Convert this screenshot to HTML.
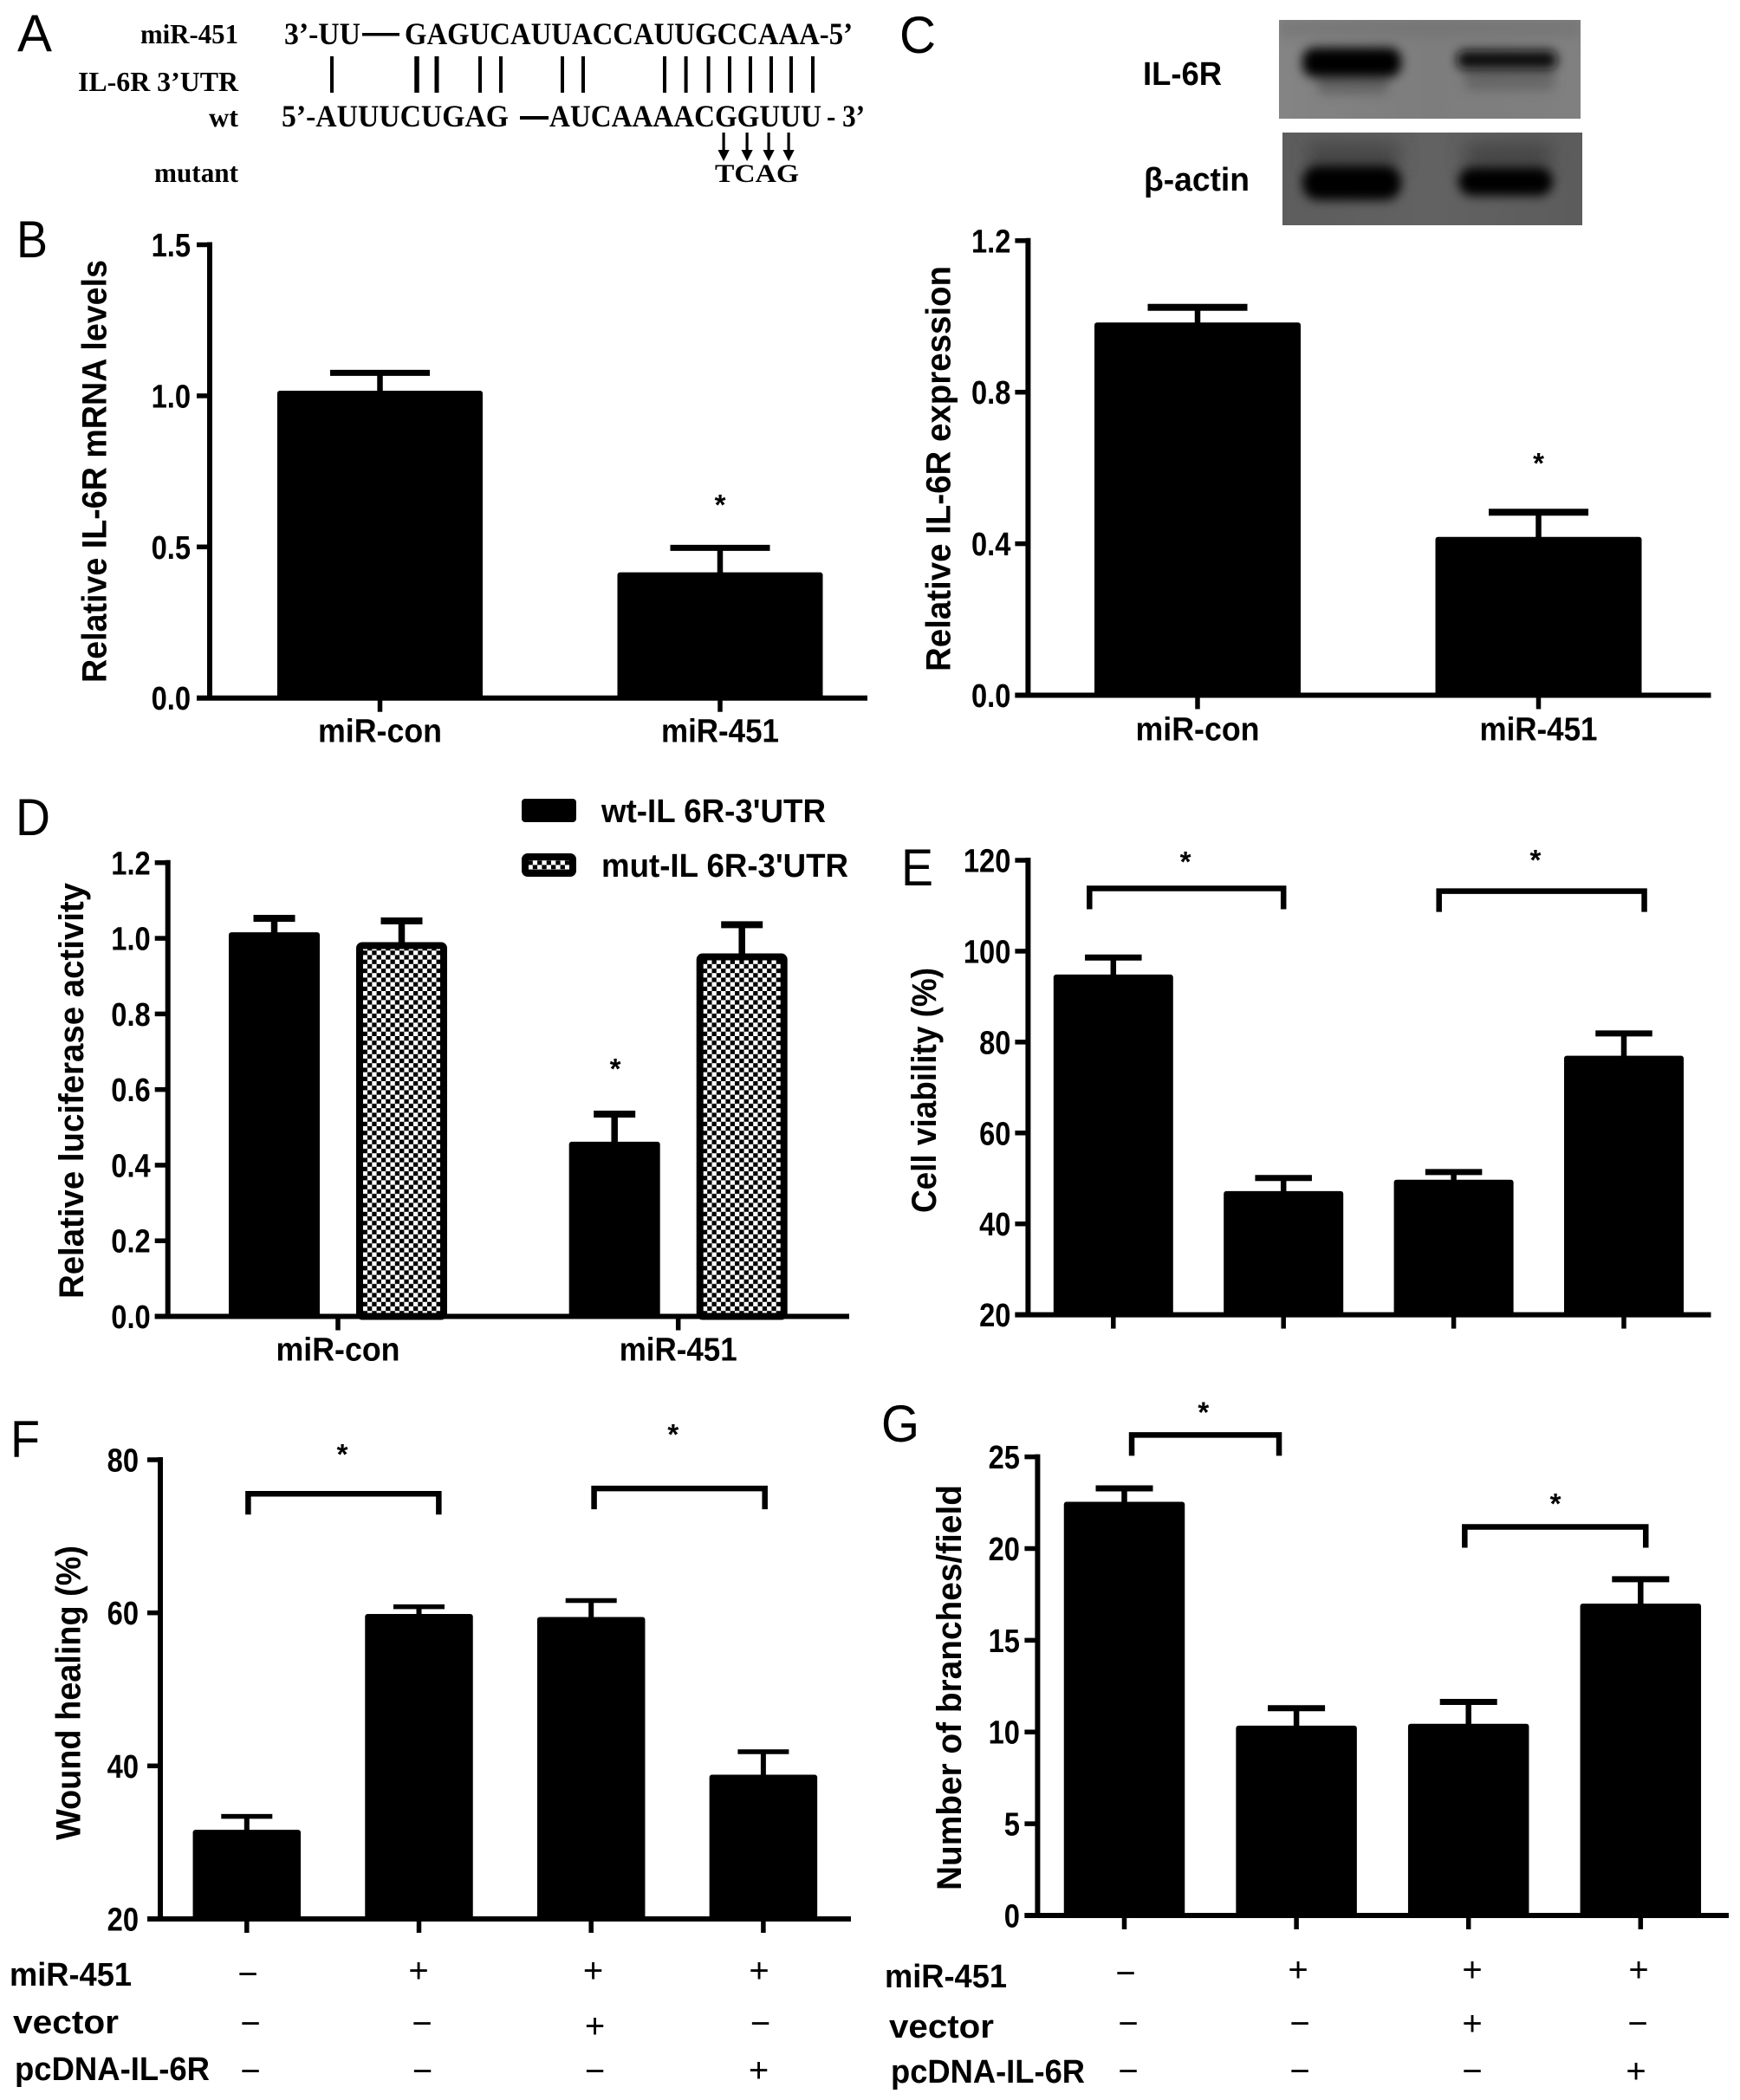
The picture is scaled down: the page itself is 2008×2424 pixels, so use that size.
<!DOCTYPE html>
<html lang="en">
<head>
<meta charset="utf-8">
<title>miR-451 and IL-6R figure</title>
<style>
html,body{margin:0;padding:0;background:#fff;width:2008px;height:2424px;overflow:hidden}
svg{display:block}
text{fill:#000}
.sans{font-family:"Liberation Sans",Arial,sans-serif;font-weight:bold}
.letter{font-family:"Liberation Sans",Arial,sans-serif;font-weight:normal;font-size:60px}
.serif{font-family:"Liberation Serif","Times New Roman",serif;font-weight:bold}
.sign{font-family:"Liberation Sans",Arial,sans-serif;font-weight:normal;font-size:40px;text-anchor:middle}
.rowlab{font-family:"Liberation Sans",Arial,sans-serif;font-weight:bold;font-size:38px}
</style>
</head>
<body>
<svg id="figure" xmlns="http://www.w3.org/2000/svg" width="2008" height="2424" viewBox="0 0 2008 2424">
<defs>
  <pattern id="checker" width="10.6" height="10.4" patternUnits="userSpaceOnUse">
    <rect width="10.6" height="10.4" fill="#fff"/>
    <rect width="5.3" height="5.2" fill="#000"/>
    <rect x="5.3" y="5.2" width="5.3" height="5.2" fill="#000"/>
  </pattern>
  <filter id="blur6" x="-30%" y="-80%" width="160%" height="260%"><feGaussianBlur stdDeviation="6"/></filter>
  <filter id="blur12" x="-30%" y="-80%" width="160%" height="260%"><feGaussianBlur stdDeviation="11"/></filter>
  <clipPath id="clip-blot-1"><rect x="1476" y="23" width="348" height="114"/></clipPath>
  <clipPath id="clip-blot-2"><rect x="1480" y="153" width="346" height="107"/></clipPath>
  <linearGradient id="blot1-bg" x1="0" y1="0" x2="1" y2="0">
    <stop offset="0" stop-color="#848484"/><stop offset=".5" stop-color="#7d7d7d"/><stop offset="1" stop-color="#808080"/>
  </linearGradient>
  <linearGradient id="blot2-bg" x1="0" y1="0" x2="1" y2="0">
    <stop offset="0" stop-color="#5d5d5d"/><stop offset=".5" stop-color="#626262"/><stop offset="1" stop-color="#5c5c5c"/>
  </linearGradient>
</defs>
<rect width="2008" height="2424" fill="#fff"/>

<!-- Panel letters -->
<text class="letter" x="20" y="59" textLength="40" lengthAdjust="spacingAndGlyphs">A</text>
<text class="letter" x="19" y="297" textLength="36" lengthAdjust="spacingAndGlyphs">B</text>
<text class="letter" x="1038" y="61" textLength="42" lengthAdjust="spacingAndGlyphs">C</text>
<text class="letter" x="18" y="964" textLength="40" lengthAdjust="spacingAndGlyphs">D</text>
<text class="letter" x="1040" y="1022" textLength="37" lengthAdjust="spacingAndGlyphs">E</text>
<text class="letter" x="12" y="1682" textLength="34" lengthAdjust="spacingAndGlyphs">F</text>
<text class="letter" x="1017" y="1664" textLength="44" lengthAdjust="spacingAndGlyphs">G</text>

<!-- Panel A: binding-site diagram -->
<g>
  <text class="serif" font-size="32" x="162" y="50" textLength="113" lengthAdjust="spacingAndGlyphs">miR-451</text>
  <text class="serif" font-size="32" x="90" y="105" textLength="185" lengthAdjust="spacingAndGlyphs">IL-6R 3’UTR</text>
  <text class="serif" font-size="32" x="241" y="146" textLength="34" lengthAdjust="spacingAndGlyphs">wt</text>
  <text class="serif" font-size="32" x="178" y="210" textLength="97" lengthAdjust="spacingAndGlyphs">mutant</text>

  <text class="serif" font-size="36" x="328" y="51" textLength="88" lengthAdjust="spacingAndGlyphs">3’-UU</text>
  <rect x="418" y="38" width="43" height="3.5" fill="#000"/>
  <text class="serif" font-size="36" x="467" y="51" textLength="517" lengthAdjust="spacingAndGlyphs">GAGUCAUUACCAUUGCCAAA-5’</text>

  <text class="serif" font-size="36" x="325" y="146" textLength="262" lengthAdjust="spacingAndGlyphs">5’-AUUUCUGAG</text>
  <rect x="600" y="134" width="33" height="4" fill="#000"/>
  <text class="serif" font-size="36" x="634" y="146" textLength="314" lengthAdjust="spacingAndGlyphs">AUCAAAACGGUUU</text>
  <text class="serif" font-size="36" x="954" y="146" textLength="44" lengthAdjust="spacingAndGlyphs">- 3’</text>

  <g stroke="#000" stroke-width="4">
    <line x1="383" y1="65" x2="383" y2="107"/>
    <line x1="481" y1="65" x2="481" y2="107" stroke-width="5.5"/>
    <line x1="504" y1="65" x2="504" y2="107" stroke-width="5"/>
    <line x1="554" y1="65" x2="554" y2="107"/>
    <line x1="578" y1="65" x2="578" y2="107"/>
    <line x1="649" y1="65" x2="649" y2="107"/>
    <line x1="673" y1="65" x2="673" y2="107"/>
    <line x1="767" y1="65" x2="767" y2="107"/>
    <line x1="791.6" y1="65" x2="791.6" y2="107"/>
    <line x1="817.6" y1="65" x2="817.6" y2="107"/>
    <line x1="842" y1="65" x2="842" y2="107"/>
    <line x1="866" y1="65" x2="866" y2="107"/>
    <line x1="890" y1="65" x2="890" y2="107"/>
    <line x1="913" y1="65" x2="913" y2="107"/>
    <line x1="938" y1="65" x2="938" y2="107"/>
  </g>
  <g>
    <path d="M833.5 153h3.2v20h5l-6.6 13-6.6-13h5z" fill="#000"/>
    <path d="M860.5 153h3.2v20h5l-6.6 13-6.6-13h5z" fill="#000"/>
    <path d="M885.5 153h3.2v20h5l-6.6 13-6.6-13h5z" fill="#000"/>
    <path d="M908.5 153h3.2v20h5l-6.6 13-6.6-13h5z" fill="#000"/>
  </g>
  <text class="serif" font-size="30" x="825" y="210" textLength="97" lengthAdjust="spacingAndGlyphs">TCAG</text>
</g>

<!-- Panel C: western blots -->
<g>
  <text class="sans" font-size="38" x="1319" y="98" textLength="91" lengthAdjust="spacingAndGlyphs">IL-6R</text>
  <text class="sans" font-size="38" x="1320" y="220" textLength="122" lengthAdjust="spacingAndGlyphs">β-actin</text>
  <g clip-path="url(#clip-blot-1)">
    <rect x="1476" y="23" width="348" height="114" fill="url(#blot1-bg)"/>
    <rect x="1476" y="23" width="348" height="20" fill="#6f6f6f" opacity=".5" filter="url(#blur6)"/>
    <rect x="1520" y="84" width="82" height="24" rx="8" fill="#4f4f4f" opacity=".6" filter="url(#blur6)"/>
    <rect x="1690" y="80" width="104" height="24" rx="8" fill="#555" opacity=".55" filter="url(#blur6)"/>
    <rect x="1503" y="55" width="114" height="34" rx="14" fill="#000" filter="url(#blur6)"/>
    <rect x="1681" y="58" width="116" height="22" rx="10" fill="#0c0c0c" filter="url(#blur6)"/>
  </g>
  <g clip-path="url(#clip-blot-2)">
    <rect x="1480" y="153" width="346" height="107" fill="url(#blot2-bg)"/>
    <rect x="1510" y="165" width="105" height="30" fill="#3a3a3a" opacity=".7" filter="url(#blur12)"/>
    <rect x="1690" y="165" width="100" height="30" fill="#3a3a3a" opacity=".7" filter="url(#blur12)"/>
    <rect x="1503" y="191" width="114" height="40" rx="18" fill="#000" filter="url(#blur6)"/>
    <rect x="1683" y="193" width="109" height="33" rx="16" fill="#000" filter="url(#blur6)"/>
  </g>
</g>

<!-- Axis titles -->
<text class="sans" font-size="40" transform="translate(122.7,788) rotate(-90)" textLength="488" lengthAdjust="spacingAndGlyphs">Relative IL-6R mRNA levels</text>
<text class="sans" font-size="40" transform="translate(1096.4,775) rotate(-90)" textLength="468" lengthAdjust="spacingAndGlyphs">Relative IL-6R expression</text>
<text class="sans" font-size="40" transform="translate(96,1499) rotate(-90)" textLength="480" lengthAdjust="spacingAndGlyphs">Relative luciferase activity</text>
<text class="sans" font-size="40" transform="translate(1080,1400) rotate(-90)" textLength="283" lengthAdjust="spacingAndGlyphs">Cell viability (%)</text>
<text class="sans" font-size="40" transform="translate(92.5,2124) rotate(-90)" textLength="340" lengthAdjust="spacingAndGlyphs">Wound healing (%)</text>
<text class="sans" font-size="40" transform="translate(1109,2182) rotate(-90)" textLength="468" lengthAdjust="spacingAndGlyphs">Number of branches/field</text>

<!-- Panel D legend -->
<g>
  <rect x="602" y="922" width="63" height="27" rx="4" fill="#000"/>
  <text class="sans" font-size="38" x="694" y="949" textLength="259" lengthAdjust="spacingAndGlyphs">wt-IL 6R-3'UTR</text>
  <rect x="606" y="989" width="55" height="19" rx="3" fill="url(#checker)" stroke="#000" stroke-width="8"/>
  <text class="sans" font-size="38" x="694" y="1012" textLength="285" lengthAdjust="spacingAndGlyphs">mut-IL 6R-3'UTR</text>
</g>

<!-- Panel F treatment table -->
<g>
  <text class="rowlab" x="11" y="2292" textLength="141" lengthAdjust="spacingAndGlyphs">miR-451</text>
  <text class="rowlab" x="15" y="2347" textLength="122" lengthAdjust="spacingAndGlyphs">vector</text>
  <text class="rowlab" x="17" y="2401" textLength="225" lengthAdjust="spacingAndGlyphs">pcDNA-IL-6R</text>
  <text class="sign" x="286" y="2292">−</text>
  <text class="sign" x="483" y="2288">+</text>
  <text class="sign" x="684.5" y="2288">+</text>
  <text class="sign" x="876" y="2288">+</text>
  <text class="sign" x="289" y="2349">−</text>
  <text class="sign" x="487" y="2349">−</text>
  <text class="sign" x="686.5" y="2352">+</text>
  <text class="sign" x="877.5" y="2349">−</text>
  <text class="sign" x="289" y="2404">−</text>
  <text class="sign" x="487.5" y="2404">−</text>
  <text class="sign" x="686.5" y="2404">−</text>
  <text class="sign" x="875.5" y="2403">+</text>
</g>

<!-- Panel G treatment table -->
<g>
  <text class="rowlab" x="1021" y="2294" textLength="141" lengthAdjust="spacingAndGlyphs">miR-451</text>
  <text class="rowlab" x="1026" y="2352" textLength="121" lengthAdjust="spacingAndGlyphs">vector</text>
  <text class="rowlab" x="1028" y="2404" textLength="224" lengthAdjust="spacingAndGlyphs">pcDNA-IL-6R</text>
  <text class="sign" x="1299" y="2291">−</text>
  <text class="sign" x="1498" y="2287">+</text>
  <text class="sign" x="1699" y="2287">+</text>
  <text class="sign" x="1891" y="2287">+</text>
  <text class="sign" x="1302" y="2349">−</text>
  <text class="sign" x="1500" y="2349">−</text>
  <text class="sign" x="1699" y="2349">+</text>
  <text class="sign" x="1890" y="2349">−</text>
  <text class="sign" x="1302" y="2404">−</text>
  <text class="sign" x="1500" y="2404">−</text>
  <text class="sign" x="1699" y="2404">−</text>
  <text class="sign" x="1888" y="2404">+</text>
</g>
</svg>

<script>
// ---- Chart data ----
const bCategories = ["miR-con", "miR-451"];
const bMeans = [1.017, 0.416];
const bUpper = [1.076, 0.497];
const bTickLabels = ["0.0", "0.5", "1.0", "1.5"];

const cCategories = ["miR-con", "miR-451"];
const cMeans = [0.984, 0.418];
const cUpper = [1.024, 0.483];
const cTickLabels = ["0.0", "0.4", "0.8", "1.2"];

const dCategories = ["miR-con", "miR-451"];
const dWtMeans = [1.016, 0.462];
const dWtUpper = [1.053, 0.535];
const dMutMeans = [0.99, 0.96];
const dMutUpper = [1.046, 1.036];
const dTickLabels = ["0.0", "0.2", "0.4", "0.6", "0.8", "1.0", "1.2"];

const eMeans = [94.85, 47.2, 49.7, 77.0];
const eUpper = [98.6, 50.1, 51.4, 81.9];
const eTickLabels = ["20", "40", "60", "80", "100", "120"];

const fMeans = [31.65, 59.85, 59.45, 38.85];
const fUpper = [33.4, 60.8, 61.6, 41.85];
const fTickLabels = ["20", "40", "60", "80"];

const gMeans = [22.55, 10.35, 10.45, 17.0];
const gUpper = [23.28, 11.3, 11.64, 18.33];
const gTickLabels = ["0", "5", "10", "15", "20", "25"];

// ---- Drawing ----
const SVGNS = "http://www.w3.org/2000/svg";
const root = document.getElementById("figure");
const CATEGORY_WIDTH = {"miR-con": 143, "miR-451": 136};

function make(tag, attrs, parent) {
  const node = document.createElementNS(SVGNS, tag);
  for (const k in attrs) node.setAttribute(k, attrs[k]);
  parent.appendChild(node);
  return node;
}

function drawPanel(p) {
  const group = make("g", {}, root);
  
  

  const domainMin = parseFloat(p.ticks[0]);
  const domainMax = parseFloat(p.ticks[p.ticks.length - 1]);
  const yScale = function (v) {
    return p.y0 - (v - domainMin) / (domainMax - domainMin) * (p.y0 - p.y1);
  };
  const groupX = function (i) { return p.first + i * p.step; };
  const nSeries = p.series.length;
  const barX = function (i, s) {
    return groupX(i) + (s - (nSeries - 1) / 2) * (p.seriesGap || 0);
  };

  // bars and error bars
  p.series.forEach(function (series, s) {
    series.means.forEach(function (mean, i) {
      const cx = barX(i, s);
      const top = yScale(series.upper[i]);
      const barTop = yScale(mean);

      const stem = make("line", {x1: cx, x2: cx, y1: top, y2: barTop + 3, stroke: "#000", "stroke-width": p.stem}, group);
      
      

      const cap = make("line", {x1: cx - p.capW / 2, x2: cx + p.capW / 2, y1: top, y2: top, stroke: "#000", "stroke-width": p.capT}, group);
      
      

      let bar;
      if (series.pattern) {
        bar = make("rect", {x: cx - p.barW / 2 + 4, y: barTop + 4, width: p.barW - 8, height: p.y0 - barTop - 4, rx: 3, fill: "url(#checker)", stroke: "#000", "stroke-width": 8}, group);
      } else {
        bar = make("rect", {x: cx - p.barW / 2, y: barTop, width: p.barW, height: p.y0 - barTop, rx: 3, fill: "#000"}, group);
      }
      
      
    });
  });

  // y axis
  const yAxis = make("line", {x1: p.axisX, x2: p.axisX, y1: yScale(domainMax) - 3, y2: p.y0, stroke: "#000", "stroke-width": 6}, group);
  
  

  p.ticks.forEach(function (label) {
    const v = parseFloat(label);
    const ty = yScale(v);
    const tick = make("line", {x1: p.axisX - 15, x2: p.axisX, y1: ty, y2: ty, stroke: "#000", "stroke-width": 5.5}, group);
    
    

    const text = make("text", {class: "sans", "font-size": 38, "text-anchor": "end", transform: "translate(" + (p.axisX - p.labelGap) + "," + (ty + 13.5) + ") scale(0.86,1)"}, group);
    
    
    text.textContent = label;
  });

  // x axis
  const xAxis = make("line", {x1: p.axisX - 15, x2: p.xEnd, y1: p.y0, y2: p.y0, stroke: "#000", "stroke-width": 6}, group);
  
  

  for (let i = 0; i < p.series[0].means.length; i++) {
    const tick = make("line", {x1: groupX(i), x2: groupX(i), y1: p.y0, y2: p.y0 + 16, stroke: "#000", "stroke-width": 5.5}, group);
    
    
  }

  (p.categories || []).forEach(function (label, i) {
    const w = CATEGORY_WIDTH[label];
    const text = make("text", {class: "sans", "font-size": 38, x: groupX(i) - w / 2, y: p.y0 + p.catDrop, textLength: w, lengthAdjust: "spacingAndGlyphs"}, group);
    
    
    text.textContent = label;
  });

  // significance brackets
  (p.brackets || []).forEach(function (b, k) {
    const yTop = yScale(b.value);
    const d = "M" + groupX(b.from) + " " + (yTop + p.bracketDrop) + "V" + yTop + "H" + groupX(b.to) + "V" + (yTop + p.bracketDrop);
    const path = make("path", {d: d, fill: "none", stroke: "#000", "stroke-width": 6.5}, group);
    
    
  });

  // significance stars
  (p.stars || []).forEach(function (st, k) {
    const text = make("text", {class: "sans", "font-size": 33, "text-anchor": "middle", x: groupX(st.at), y: yScale(st.value) + 19}, group);
    
    
    text.textContent = "*";
  });
}

drawPanel({id: "b", categories: bCategories, ticks: bTickLabels,
  series: [{means: bMeans, upper: bUpper}],
  axisX: 242, xEnd: 1001, y0: 805.7, y1: 282.5, labelGap: 22, catDrop: 51,
  first: 438.5, step: 392.5, barW: 237, capW: 115, capT: 7, stem: 6.5,
  stars: [{at: 1, value: 0.662}]});

drawPanel({id: "c", categories: cCategories, ticks: cTickLabels,
  series: [{means: cMeans, upper: cUpper}],
  axisX: 1186.4, xEnd: 1974.5, y0: 802.5, y1: 277.8, labelGap: 20, catDrop: 52,
  first: 1382, step: 393.5, barW: 238, capW: 115, capT: 8, stem: 6.5,
  stars: [{at: 1, value: 0.63}]});

drawPanel({id: "d", categories: dCategories, ticks: dTickLabels,
  series: [{means: dWtMeans, upper: dWtUpper}, {means: dMutMeans, upper: dMutUpper, pattern: true}],
  axisX: 193.7, xEnd: 980, y0: 1519.5, y1: 995.8, labelGap: 20, catDrop: 51,
  first: 390, step: 392.7, seriesGap: 147, barW: 105, capW: 48, capT: 8, stem: 7.5,
  stars: [{at: 0.815, value: 0.673}]});

drawPanel({id: "e", ticks: eTickLabels,
  series: [{means: eMeans, upper: eUpper}],
  axisX: 1186.4, xEnd: 1974.5, y0: 1517.6, y1: 993, labelGap: 20,
  first: 1284.8, step: 196.4, barW: 138, capW: 65.5, capT: 7, stem: 6.5,
  bracketDrop: 24,
  brackets: [{from: -0.14, to: 1.0, value: 113.8}, {from: 1.914, to: 3.12, value: 113.2}],
  stars: [{at: 0.424, value: 121.1}, {at: 2.48, value: 121.5}]});

drawPanel({id: "f", ticks: fTickLabels,
  series: [{means: fMeans, upper: fUpper}],
  axisX: 185, xEnd: 982, y0: 2215, y1: 1685, labelGap: 25,
  first: 284.8, step: 198.7, barW: 124.5, capW: 59, capT: 5.5, stem: 6,
  bracketDrop: 24,
  brackets: [{from: 0.008, to: 1.115, value: 75.55}, {from: 2.017, to: 3.009, value: 76.25}],
  stars: [{at: 0.555, value: 81.6}, {at: 2.476, value: 84.2}]});

drawPanel({id: "g", ticks: gTickLabels,
  series: [{means: gMeans, upper: gUpper}],
  axisX: 1197.4, xEnd: 1995, y0: 2211, y1: 1681.6, labelGap: 20.5,
  first: 1297.5, step: 198.6, barW: 139.5, capW: 66, capT: 7, stem: 6.5,
  bracketDrop: 24,
  brackets: [{from: 0.043, to: 0.899, value: 26.19}, {from: 1.978, to: 3.03, value: 21.18}],
  stars: [{at: 0.46, value: 27.8}, {at: 2.505, value: 22.82}]});
</script>
</body>
</html>
